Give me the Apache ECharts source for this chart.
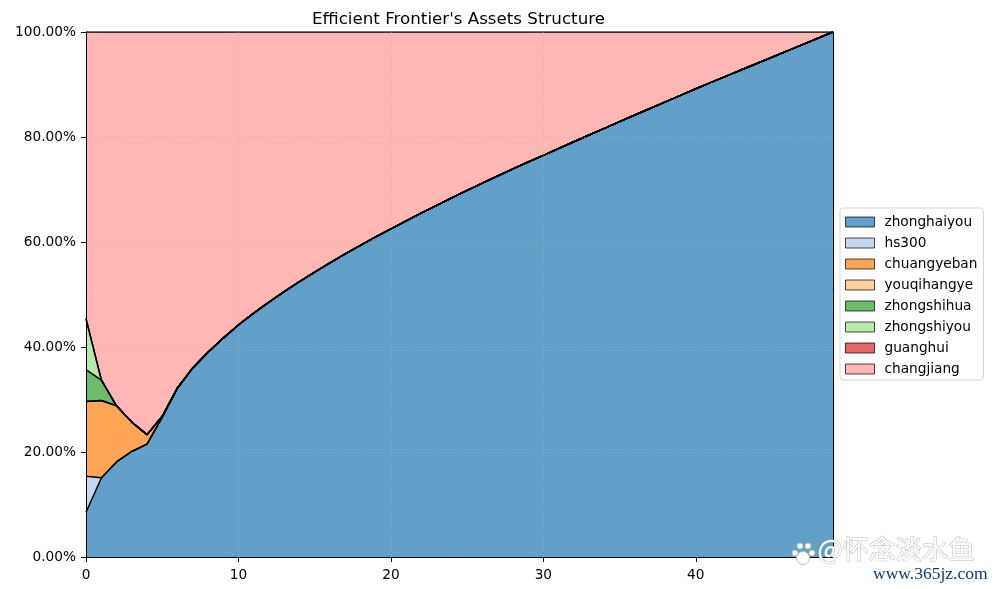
<!DOCTYPE html>
<html><head><meta charset="utf-8">
<style>html,body{margin:0;padding:0;background:#fff}#c{width:996px;height:589px}</style>
<script src="https://cdn.jsdelivr.net/npm/echarts@6/dist/echarts.min.js"></script>
</head><body><div id="c"></div>
<script>
const titleText = "Efficient Frontier's Assets Structure";
const categories = [0,1,2,3,4,5,6,7,8,9,10,11,12,13,14,15,16,17,18,19,20,21,22,23,24,25,26,27,28,29,30,31,32,33,34,35,36,37,38,39,40,41,42,43,44,45,46,47,48,49];
const zhonghaiyou = [8.5,15,18.1,20.1,21.5,26.6,32.2,36,39,41.7,44.2,46.45,48.55,50.55,52.45,54.27,56.02,57.72,59.37,60.97,62.5,64.02,65.52,66.99,68.43,69.84,71.22,72.58,73.92,75.23,76.51,77.81,79.1,80.38,81.65,82.92,84.18,85.44,86.69,87.94,89.18,90.4,91.6,92.8,94,95.2,96.4,97.6,98.8,100];
const hs300 = [6.9,0.1,0,0,0,0,0,0,0,0,0,0,0,0,0,0,0,0,0,0,0,0,0,0,0,0,0,0,0,0,0,0,0,0,0,0,0,0,0,0,0,0,0,0,0,0,0,0,0,0];
const chuangyeban = [14.2,14.7,10.7,5.6,1.8,0.2,0,0,0,0,0,0,0,0,0,0,0,0,0,0,0,0,0,0,0,0,0,0,0,0,0,0,0,0,0,0,0,0,0,0,0,0,0,0,0,0,0,0,0,0];
const youqihangye = [0,0,0,0,0,0,0,0,0,0,0,0,0,0,0,0,0,0,0,0,0,0,0,0,0,0,0,0,0,0,0,0,0,0,0,0,0,0,0,0,0,0,0,0,0,0,0,0,0,0];
const zhongshihua = [6.1,3.9,0,0,0,0,0,0,0,0,0,0,0,0,0,0,0,0,0,0,0,0,0,0,0,0,0,0,0,0,0,0,0,0,0,0,0,0,0,0,0,0,0,0,0,0,0,0,0,0];
const zhongshiyou = [9.7,0.1,0,0,0,0,0,0,0,0,0,0,0,0,0,0,0,0,0,0,0,0,0,0,0,0,0,0,0,0,0,0,0,0,0,0,0,0,0,0,0,0,0,0,0,0,0,0,0,0];
const guanghui = [0,0,0,0,0,0,0,0,0,0,0,0,0,0,0,0,0,0,0,0,0,0,0,0,0,0,0,0,0,0,0,0,0,0,0,0,0,0,0,0,0,0,0,0,0,0,0,0,0,0];
const changjiang = [54.6,66.2,71.2,74.3,76.7,73.2,67.8,64,61,58.3,55.8,53.55,51.45,49.45,47.55,45.73,43.98,42.28,40.63,39.03,37.5,35.98,34.48,33.01,31.57,30.16,28.78,27.42,26.08,24.77,23.49,22.19,20.9,19.62,18.35,17.08,15.82,14.56,13.31,12.06,10.82,9.6,8.4,7.2,6,4.8,3.6,2.4,1.2,0];
const seriesNames = ['zhonghaiyou','hs300','chuangyeban','youqihangye','zhongshihua','zhongshiyou','guanghui','changjiang'];
const seriesValues = [zhonghaiyou,hs300,chuangyeban,youqihangye,zhongshihua,zhongshiyou,guanghui,changjiang];
const colors = ['#1f77b4','#aec7e8','#ff7f0e','#ffbb78','#2ca02c','#98df8a','#d62728','#ff9896'];
const font = '"DejaVu Sans"';
const grey = 'rgba(176,176,176,0.55)';
const chart = echarts.init(document.getElementById('c'));
const pawPad = {fill:'#fff',stroke:'#bbb',lineWidth:1};
chart.setOption({
  animation:false,
  backgroundColor:'#fff',
  title:{text:titleText,left:453.5,top:6,textAlign:'center',textStyle:{fontFamily:font,fontSize:16.7,fontWeight:'normal',color:'#000'}},
  grid:{left:86,right:163,top:32,bottom:32,show:false},
  legend:{
    orient:'vertical',left:840,top:208,padding:[7,6,4,5],itemWidth:29,itemHeight:10,itemGap:7,
    backgroundColor:'#fff',borderColor:'#d5d5d5',borderWidth:1,borderRadius:3,
    textStyle:{fontFamily:font,fontSize:13.7,color:'#000',padding:[0,0,0,5]},
    icon:'rect',data:seriesNames,
    lineStyle:{width:0},
    itemStyle:{borderWidth:1,borderColor:'rgba(0,0,0,0.7)'}
  },
  xAxis:[{type:'category',boundaryGap:false,data:categories,z:5,
    axisLine:{lineStyle:{color:'#000',width:1}},
    axisTick:{show:true,alignWithLabel:true,interval:9,length:5,lineStyle:{color:'#000'}},
    axisLabel:{interval:9,fontFamily:font,fontSize:13.7,color:'#000',margin:11},
    splitLine:{show:true,interval:9,showMinLine:false,showMaxLine:false,lineStyle:{color:grey,type:[1,2],width:1}}},
    {type:'category',position:'top',boundaryGap:false,data:categories,z:5,
    axisLine:{show:true,lineStyle:{color:'#000',width:1}},axisTick:{show:false},axisLabel:{show:false},splitLine:{show:false}}],
  yAxis:[{type:'value',min:0,max:100,interval:20,z:5,
    axisLine:{show:true,lineStyle:{color:'#000',width:1}},
    axisTick:{show:true,length:5,lineStyle:{color:'#000'}},
    axisLabel:{formatter:v=>v.toFixed(2)+'%',fontFamily:font,fontSize:13.7,color:'#000',margin:10,padding:[7,0,0,0]},
    splitLine:{show:true,showMinLine:false,showMaxLine:false,lineStyle:{color:grey,type:[1,2],width:1}}},
    {type:'value',position:'right',min:0,max:100,interval:20,z:5,
    axisLine:{show:true,lineStyle:{color:'#000',width:1}},axisTick:{show:false},axisLabel:{show:false},splitLine:{show:false}}],
  series:seriesNames.map((n,i)=>({
    name:n,type:'line',stack:'total',data:seriesValues[i],showSymbol:false,symbol:'none',smooth:false,
    lineStyle:{color:'#000',width:1.5},
    itemStyle:{color:echarts.color.modifyAlpha(colors[i],0.7),borderColor:'rgba(0,0,0,0.7)',borderWidth:1},
    areaStyle:{color:colors[i],opacity:0.7},
    emphasis:{disabled:true}
  })),
  graphic:[
    {type:'text',silent:true,z:100,left:817,top:535,style:{text:'@怀念淡水鱼',fontFamily:'"Noto Sans CJK SC"',fontSize:26.5,fill:'#fff',stroke:'#b9b9b9',lineWidth:1}},
    {type:'circle',silent:true,z:100,shape:{cx:803,cy:558,r:6.5},style:pawPad},
    {type:'circle',silent:true,z:100,shape:{cx:795,cy:553,r:3},style:pawPad},
    {type:'circle',silent:true,z:100,shape:{cx:800,cy:546,r:3},style:pawPad},
    {type:'circle',silent:true,z:100,shape:{cx:808,cy:546,r:3},style:pawPad},
    {type:'circle',silent:true,z:100,shape:{cx:812,cy:553,r:3},style:pawPad},
    {type:'text',silent:true,z:100,left:873,top:565,style:{text:'www.365jz.com',fontFamily:'"Liberation Serif"',fontSize:17.5,fill:'#123a6d'}}
  ]
});
</script></body></html>
